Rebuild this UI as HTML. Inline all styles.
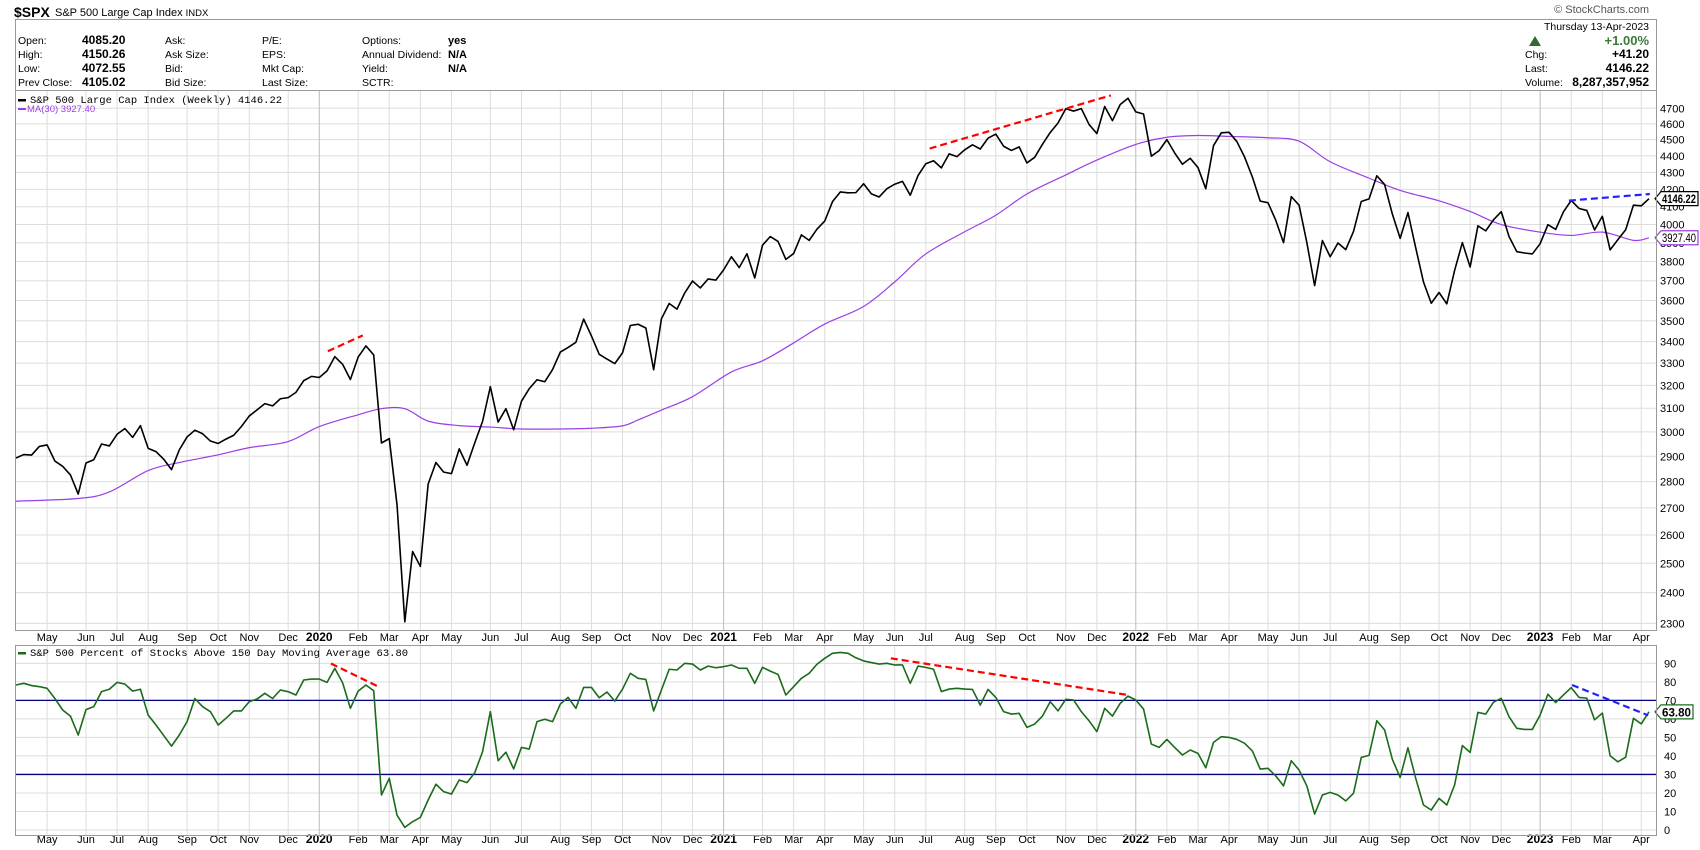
<!DOCTYPE html>
<html><head><meta charset="utf-8"><style>
body{margin:0;background:#fff;}
svg{display:block;font-family:"Liberation Sans",sans-serif;}
</style></head><body>
<svg id="c" width="1700" height="850" viewBox="0 0 1700 850">
<rect x="0" y="0" width="1700" height="850" fill="#fff"/>
<text x="14" y="17" font-size="14" font-weight="bold">$SPX</text>
<text x="55" y="16" font-size="11">S&amp;P 500 Large Cap Index <tspan font-size="9.5">INDX</tspan></text>
<text x="1649" y="13" font-size="11" fill="#555" text-anchor="end">© StockCharts.com</text>
<rect x="15.5" y="19.5" width="1641" height="71" fill="none" stroke="#999"/>
<g font-size="10.5">
<text x="18" y="44">Open:</text><text x="82" y="44" font-weight="bold" font-size="12">4085.20</text>
<text x="18" y="58">High:</text><text x="82" y="58" font-weight="bold" font-size="12">4150.26</text>
<text x="18" y="72">Low:</text><text x="82" y="72" font-weight="bold" font-size="12">4072.55</text>
<text x="18" y="86">Prev Close:</text><text x="82" y="86" font-weight="bold" font-size="12">4105.02</text>
<text x="165" y="44">Ask:</text><text x="165" y="58">Ask Size:</text><text x="165" y="72">Bid:</text><text x="165" y="86">Bid Size:</text>
<text x="262" y="44">P/E:</text><text x="262" y="58">EPS:</text><text x="262" y="72">Mkt Cap:</text><text x="262" y="86">Last Size:</text>
<text x="362" y="44">Options:</text><text x="362" y="58">Annual Dividend:</text><text x="362" y="72">Yield:</text><text x="362" y="86">SCTR:</text>
<text x="448" y="44" font-weight="bold" font-size="11">yes</text><text x="448" y="58" font-weight="bold" font-size="11">N/A</text><text x="448" y="72" font-weight="bold" font-size="11">N/A</text>
</g>
<g font-size="10.5">
<text x="1649" y="30" text-anchor="end">Thursday  13-Apr-2023</text>
<polygon points="1529,46 1535,36 1541,46" fill="#2e6b2e"/>
<text x="1649" y="45" text-anchor="end" font-weight="bold" font-size="13" fill="#3a7a3a">+1.00%</text>
<text x="1525" y="58">Chg:</text><text x="1649" y="58" text-anchor="end" font-weight="bold" font-size="12">+41.20</text>
<text x="1525" y="72">Last:</text><text x="1649" y="72" text-anchor="end" font-weight="bold" font-size="12">4146.22</text>
<text x="1525" y="86">Volume:</text><text x="1649" y="86" text-anchor="end" font-weight="bold" font-size="12">8,287,357,952</text>
</g>
<g id="grid"></g>
<g id="marks"></g>
<rect x="15.5" y="90.5" width="1641" height="540" fill="none" stroke="#999"/>
<rect x="15.5" y="645.5" width="1641" height="190" fill="none" stroke="#999"/>
<g>
<rect x="18" y="99" width="8" height="2.5" fill="#000"/>
<text x="30" y="103" font-family="Liberation Mono, monospace" font-size="10.5">S&amp;P 500 Large Cap Index (Weekly) 4146.22</text>
<rect x="18" y="108" width="8" height="2" fill="#9a3ee8"/>
<text x="27" y="112" font-size="9.5" fill="#9a3ee8">MA(30) 3927.40</text>
</g>
<g>
<rect x="18" y="652" width="8" height="2.5" fill="#1a6b1a"/>
<text x="30" y="656" font-family="Liberation Mono, monospace" font-size="10.5">S&amp;P 500 Percent of Stocks Above 150 Day Moving Average 63.80</text>
</g>
</svg>
<script>
const prices=[2893,2907,2905,2940,2946,2881,2860,2826,2752,2873,2886,2950,2942,2990,3014,2977,3026,2932,2919,2888,2847,2926,2979,3007,2992,2962,2952,2970,2986,3023,3067,3093,3120,3110,3141,3146,3169,3221,3240,
3235,3265,3330,3295,3226,3328,3380,3338,2954,2972,2711,2305,2541,2489,2790,2875,2837,2831,2930,2864,2955,3044,3194,3041,3098,3009,3130,3185,3225,3216,3271,3351,3373,3397,3508,3427,3341,3319,3298,3348,3477,3483,3465,3270,3510,3585,3557,3638,3699,3663,3709,3703,3756,
3825,3768,3841,3714,3887,3934,3907,3811,3842,3943,3913,3974,4019,4129,4185,4180,4181,4233,4174,4156,4204,4230,4247,4166,4281,4352,4370,4327,4412,4395,4437,4468,4442,4509,4535,4459,4433,4455,4357,4391,4471,4545,4605,4697,4682,4698,4595,4538,4712,4620,4725,4766,
4677,4663,4398,4432,4500,4418,4349,4385,4329,4204,4463,4543,4546,4488,4392,4272,4132,4123,4024,3901,4158,4109,3901,3675,3912,3825,3899,3863,3962,4130,4145,4280,4228,4058,3924,4067,3873,3693,3586,3640,3583,3753,3901,3771,3993,3965,4026,4072,3934,3852,3845,3840,
3895,3999,3973,4071,4136,4090,4079,3970,4046,3862,3917,3971,4109,4105,4146];
const maWeeks=[0,8,12,17,21,26,30,35,39,44,47,50,53,57,61,65,70,74,78,80,83,87,92,96,100,104,109,113,117,122,126,130,135,139,144,148,152,156,161,165,169,174,178,183,187,191,196,200,204,208,210];
const maValues=[2725,2735,2760,2843,2875,2906,2935,2960,3022,3072,3098,3098,3045,3026,3020,3012,3012,3015,3025,3050,3092,3150,3260,3311,3394,3484,3570,3694,3840,3960,4052,4173,4285,4374,4470,4515,4526,4520,4512,4490,4364,4266,4194,4134,4073,4000,3958,3940,3958,3913,3927];
const pct=[78.3,79.2,78,77.4,76.5,71,64.8,61.5,51.3,65,66.6,74.7,76,79.7,78.8,75,76,62,56.7,51,45.3,51.3,58.5,71,66.6,63.9,56.7,60.3,64.3,64.3,69.3,70.7,73.8,71,75.6,74.7,72.9,81,81.5,81.5,79.7,87.3,79.5,65.7,75,78.3,75.2,18.9,27.9,8,1.4,4.5,6.8,16.2,24.7,20.7,19.4,27,25.6,31,42.3,63.9,37.4,42,33,44.6,43.7,58.5,59.8,58.5,68,
71.6,65.7,77,77,71.4,74.5,69.6,76.1,84.6,81.9,81.3,64.3,75.6,86.8,86.4,90,89.6,86.4,88.5,87.6,88.2,89.1,87.3,87.3,79.2,87.8,85.8,84,72.9,77.4,81.9,84.6,89.5,92.7,95.4,95.9,95.4,93,91.3,90.4,89.6,90,89.1,89.1,79.2,88.5,87.8,86.8,74.7,76.1,76.5,76.1,75.9,67.5,75.9,71.6,63.9,62.6,63,55.4,57.2,61.5,69.3,64.3,70.6,70.2,63.9,58.9,53.1,65.7,61.5,68.4,72.3,
70.2,65.3,46.4,44.6,48.9,44.6,40.5,43.2,41.4,33.6,47.3,50.4,50,48.9,46.8,42.6,32.9,33.3,29.2,23.8,37.4,32.4,23.8,8.6,18.9,20.3,18.9,15.7,19.8,39.2,40.3,59,54,38.1,28.4,44.4,27.9,13.5,10.8,17.1,13.5,24.3,45.6,41.9,63.5,62.6,69,71.1,61.2,54.9,54.3,54.3,62.1,73.3,68.8,72.9,76.9,71.6,71.2,59.5,63.1,40.1,36.8,39.3,60.3,57.3,63.8];
const priceTicks=[2300,2400,2500,2600,2700,2800,2900,3000,3100,3200,3300,3400,3500,3600,3700,3800,3900,4000,4100,4200,4300,4400,4500,4600,4700];
const pctTicks=[0,10,20,30,40,50,60,70,80,90];
const monthNames=["Jan","Feb","Mar","Apr","May","Jun","Jul","Aug","Sep","Oct","Nov","Dec"];
const trendPriceRed1=[[40.1,3355],[44.6,3430]];
const trendPriceRed2=[[117.5,4445],[140.8,4785]];
const trendPriceBlue=[[199.7,4135],[210.1,4173]];
const trendPctRed1=[[40.5,89.9],[46.7,77.2]];
const trendPctRed2=[[112.5,92.7],[143,72.9]];
const trendPctBlue=[[200.1,78.3],[209.9,61.9]];
const lastPrice=4146.22, lastMA=3927.40, lastPct=63.80;

const NS="http://www.w3.org/2000/svg";
const X0=16, DX=(1649-16)/210;
const x=i=>X0+i*DX;
const yP=p=>108.3+(Math.log(4700)-Math.log(p))*720.7;
const yB=v=>830-v*1.852;
const grid=document.getElementById('grid'), marks=document.getElementById('marks');
function mk(tag,attrs,parent){const e=document.createElementNS(NS,tag);for(const k in attrs)e.setAttribute(k,attrs[k]);parent.appendChild(e);return e;}
priceTicks.forEach(t=>{
  const l=mk('line',{x1:16,x2:1656,y1:yP(t),y2:yP(t),stroke:'#ddd'},grid);
  
  
  const tx=mk('text',{x:1660,y:yP(t)+4,'font-size':11},grid);tx.textContent=t;
  
  
});
pctTicks.forEach(t=>{
  const l=mk('line',{x1:16,x2:1656,y1:yB(t),y2:yB(t),stroke:'#ddd'},grid);
  
  
  const tx=mk('text',{x:1664,y:yB(t)+4,'font-size':11},grid);tx.textContent=t;
  
  
});
const start=Date.UTC(2019,3,5);
let prevM=null;
for(let i=0;i<prices.length;i++){
  const d=new Date(start+i*7*86400000);const m=d.getUTCMonth();
  if(prevM!==null&&m!==prevM){
    const isY=m===0, xx=x(i);
    const g1=mk('line',{x1:xx,x2:xx,y1:91,y2:630,stroke:isY?'#bbb':'#ddd'},grid);
    
    
    const g2=mk('line',{x1:xx,x2:xx,y1:646,y2:835,stroke:isY?'#bbb':'#ddd'},grid);
    
    
    const lab=isY?String(d.getUTCFullYear()):monthNames[m];
    [641,843].forEach(yy=>{
      const t=mk('text',{x:xx,y:yy,'font-size':isY?12:11,'text-anchor':'middle','font-weight':isY?'bold':'normal'},grid);
      t.textContent=lab;
      
      
    });
  }
  prevM=m;
}
[70,30].forEach(v=>{
  const l=mk('line',{x1:16,x2:1656,y1:yB(v),y2:yB(v),stroke:'#000080','stroke-width':1.3},marks);
  
  
});
// smooth MA path (Catmull-Rom through readings)
const mp=maWeeks.map((w,k)=>[x(w),yP(maValues[k])]);
let dStr='M'+mp[0][0]+','+mp[0][1];
for(let k=0;k<mp.length-1;k++){
  const p0=mp[Math.max(0,k-1)],p1=mp[k],p2=mp[k+1],p3=mp[Math.min(mp.length-1,k+2)];
  const c1=[p1[0]+(p2[0]-p0[0])/6,p1[1]+(p2[1]-p0[1])/6];
  const c2=[p2[0]-(p3[0]-p1[0])/6,p2[1]-(p3[1]-p1[1])/6];
  dStr+=` C${c1[0]},${c1[1]} ${c2[0]},${c2[1]} ${p2[0]},${p2[1]}`;
}
const ma=mk('path',{d:dStr,fill:'none',stroke:'#9a3ee8','stroke-width':1.2},marks);


const pl=mk('polyline',{points:prices.map((p,i)=>x(i)+','+yP(p)).join(' '),fill:'none',stroke:'#000','stroke-width':1.6,'stroke-linejoin':'round'},marks);


const bl=mk('polyline',{points:pct.map((v,i)=>x(i)+','+yB(v)).join(' '),fill:'none',stroke:'#1a6b1a','stroke-width':1.6,'stroke-linejoin':'round'},marks);


function trend(pts,yf,col,name){
  const l=mk('line',{x1:x(pts[0][0]),y1:yf(pts[0][1]),x2:x(pts[1][0]),y2:yf(pts[1][1]),stroke:col,'stroke-width':2.2,'stroke-dasharray':'7,4'},marks);
  
  
}
trend(trendPriceRed1,yP,'#f00','trendline-red');
trend(trendPriceRed2,yP,'#f00','trendline-red');
trend(trendPriceBlue,yP,'#22f','trendline-blue');
trend(trendPctRed1,yB,'#f00','trendline-red');
trend(trendPctRed2,yB,'#f00','trendline-red');
trend(trendPctBlue,yB,'#22f','trendline-blue');
function tag(y,txt,col,bold,name,w){
  const g=mk('g',{},marks);
  
  
  mk('polygon',{points:`1655,${y} 1661,${y-7} ${1661+w},${y-7} ${1661+w},${y+7} 1661,${y+7}`,fill:'#fff',stroke:col,'stroke-width':1.2},g);
  const t=mk('text',{x:1662,y:y+4.5,'font-size':11.5,'font-weight':bold?'bold':'normal',fill:'#000',textLength:w-3,lengthAdjust:'spacingAndGlyphs'},g);t.textContent=txt;
}
tag(yP(lastMA),lastMA.toFixed(2),'#9a3ee8',false,'ma-value-tag',37);
tag(yP(lastPrice),lastPrice.toFixed(2),'#000',true,'price-value-tag',37);
tag(yB(lastPct),lastPct.toFixed(2),'#1a6b1a',true,'pct-value-tag',32);
</script>
</body></html>
